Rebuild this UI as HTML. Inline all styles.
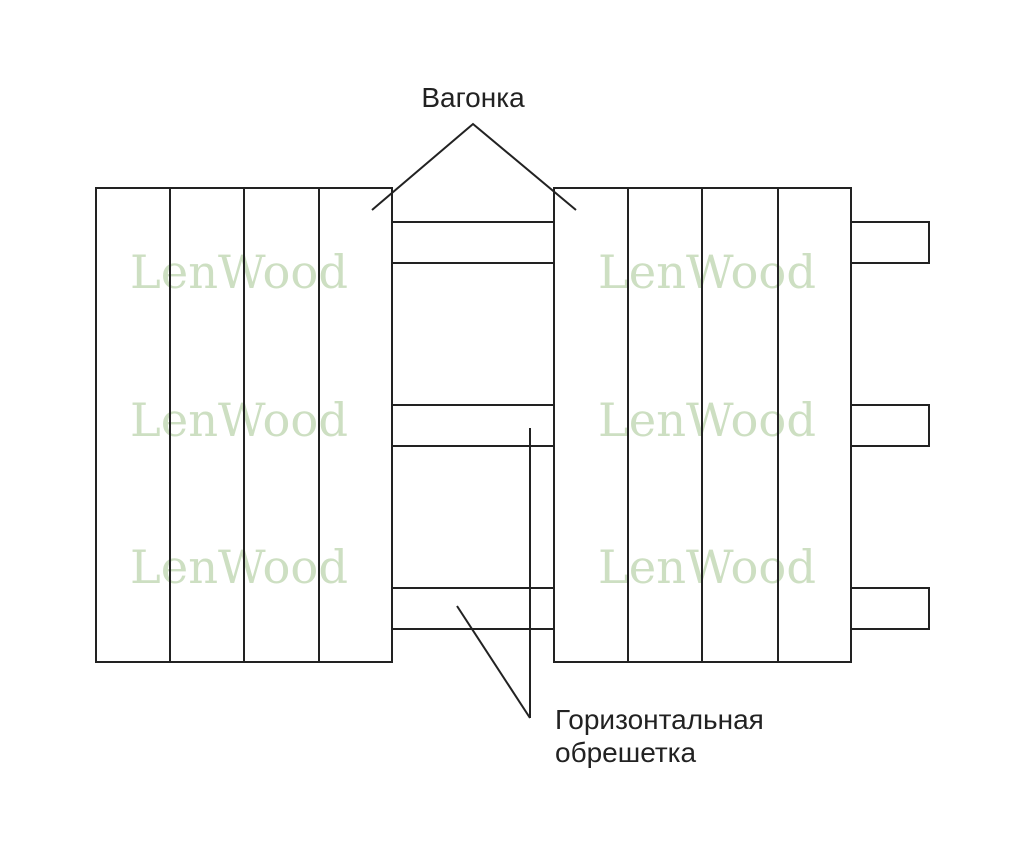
<!DOCTYPE html>
<html><head><meta charset="utf-8"><style>html,body{margin:0;padding:0;background:#fff}svg{display:block}</style></head>
<body>
<svg width="1024" height="853" viewBox="0 0 1024 853" xmlns="http://www.w3.org/2000/svg">
<g font-family="DejaVu Serif, serif" font-size="46" fill="#cddfc2">
<text x="130" y="288" textLength="218" lengthAdjust="spacingAndGlyphs">LenWood</text>
<text x="130" y="436" textLength="218" lengthAdjust="spacingAndGlyphs">LenWood</text>
<text x="130" y="583" textLength="218" lengthAdjust="spacingAndGlyphs">LenWood</text>
<text x="598" y="288" textLength="218" lengthAdjust="spacingAndGlyphs">LenWood</text>
<text x="598" y="436" textLength="218" lengthAdjust="spacingAndGlyphs">LenWood</text>
<text x="598" y="583" textLength="218" lengthAdjust="spacingAndGlyphs">LenWood</text>
</g>
<g stroke="#222" stroke-width="2" fill="none">
<rect x="96" y="188" width="296" height="474"/>
<line x1="170" y1="188" x2="170" y2="662"/>
<line x1="244" y1="188" x2="244" y2="662"/>
<line x1="319" y1="188" x2="319" y2="662"/>
<rect x="554" y="188" width="297" height="474"/>
<line x1="628" y1="188" x2="628" y2="662"/>
<line x1="702" y1="188" x2="702" y2="662"/>
<line x1="778" y1="188" x2="778" y2="662"/>
<line x1="392" y1="222" x2="554" y2="222"/><line x1="392" y1="263" x2="554" y2="263"/>
<line x1="392" y1="405" x2="554" y2="405"/><line x1="392" y1="446" x2="554" y2="446"/>
<line x1="392" y1="588" x2="554" y2="588"/><line x1="392" y1="629" x2="554" y2="629"/>
<polyline points="851,222 929,222 929,263 851,263"/>
<polyline points="851,405 929,405 929,446 851,446"/>
<polyline points="851,588 929,588 929,629 851,629"/>
<polyline points="372,210 473,124 576,210"/>
<line x1="530" y1="428" x2="530" y2="718"/>
<line x1="457" y1="606" x2="530" y2="718"/>
</g>
<g font-family="Liberation Sans, sans-serif" font-size="28" fill="#222">
<text x="473" y="107" text-anchor="middle">Вагонка</text>
<text x="555" y="729">Горизонтальная</text>
<text x="555" y="762">обрешетка</text>
</g>
</svg>
</body></html>
